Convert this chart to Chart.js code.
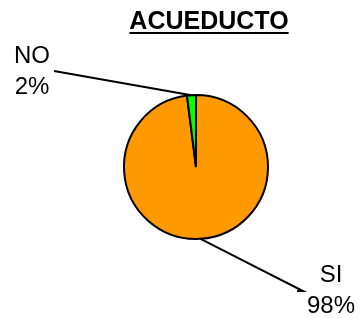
<!DOCTYPE html>
<html>
<head>
    <title>Acueducto</title>
    <script src="https://cdn.jsdelivr.net/npm/chart.js"></script>
    <style>
        html, body { margin: 0; padding: 0; background: #fff; }
        #wrap { width: 360px; height: 318px; }
    </style>
</head>
<body>
    <div id="wrap"><canvas id="pie"></canvas></div>

    <script>
        const title = 'ACUEDUCTO';
        const categories = ['SI', 'NO'];
        const values = [98, 2];
        const sliceColors = ['#FF9900', '#00FF00'];

        // where each label text sits and where its leader line ends
        const labelSpots = [
            { x: 331, y: 282, lineEnd: [303, 291], tick: -6 },
            { x: 32, y: 63, lineEnd: [54, 71], tick: 0 }
        ];

        const font = '"Liberation Sans", Arial, sans-serif';

        const labelsPlugin = {
            id: 'pieLabels',
            afterDatasetsDraw(chart) {
                const ctx = chart.ctx;
                const arcs = chart.getDatasetMeta(0).data;
                const total = values.reduce((a, b) => a + b, 0);

                ctx.save();
                arcs.forEach((arc, i) => {
                    const mid = (arc.startAngle + arc.endAngle) / 2;
                    const r = arc.outerRadius;
                    const sx = arc.x + Math.cos(mid) * r;
                    const sy = arc.y + Math.sin(mid) * r;
                    const spot = labelSpots[i];

                    ctx.beginPath();
                    ctx.moveTo(sx, sy);
                    ctx.lineTo(spot.lineEnd[0], spot.lineEnd[1]);
                    if (spot.tick) ctx.lineTo(spot.lineEnd[0] + spot.tick, spot.lineEnd[1]);
                    ctx.strokeStyle = '#000';
                    ctx.lineWidth = 2;
                    ctx.stroke();

                    const pct = Math.round(values[i] / total * 100) + '%';
                    ctx.fillStyle = '#000';
                    ctx.font = '24px ' + font;
                    ctx.textAlign = 'center';
                    ctx.textBaseline = 'alphabetic';
                    ctx.fillText(categories[i], spot.x, spot.y);
                    ctx.fillText(pct, spot.x, spot.y + 31);
                });

                // underlined title
                ctx.font = 'bold 25px ' + font;
                ctx.textAlign = 'center';
                ctx.fillText(title, 209, 29);
                const w = ctx.measureText(title).width;
                ctx.fillRect(209 - w / 2, 32, w, 2);
                ctx.restore();
            }
        };

        new Chart(document.getElementById('pie'), {
            type: 'pie',
            data: {
                labels: categories,
                datasets: [{
                    data: values,
                    backgroundColor: sliceColors,
                    borderColor: '#000',
                    borderWidth: 2
                }]
            },
            options: {
                responsive: true,
                maintainAspectRatio: false,
                animation: false,
                radius: 72,
                layout: { padding: { left: 52, right: 20, top: 40, bottom: 24 } },
                plugins: {
                    legend: { display: false },
                    tooltip: { enabled: false },
                    title: { display: false }
                }
            },
            plugins: [labelsPlugin]
        });
    </script>
</body>
</html>
